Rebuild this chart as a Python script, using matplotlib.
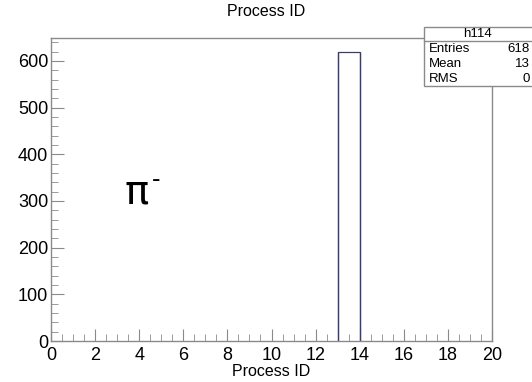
"""Histograma de Process ID para pi- con caja de estadisticas estilo ROOT."""

import matplotlib

matplotlib.use("Agg")
import matplotlib.pyplot as plt  # noqa: E402
from matplotlib.patches import Rectangle  # noqa: E402
from matplotlib.ticker import MultipleLocator  # noqa: E402

plt.rcParams["font.family"] = ["Liberation Sans", "DejaVu Sans"]

# Datos del histograma
bin_edges = [13, 14]
bin_counts = [618]
hist_name = "h114"
stat_labels = ["Entries", "Mean", "RMS"]
stat_values = ["618", "13", "0"]

FRAME = "#8a8a8a"
LINE = "#3b3b6e"

fig = plt.figure(figsize=(5.32, 3.82), dpi=100)
ax = fig.add_axes([0.0959, 0.1073, 0.8289, 0.7932])

ax.stairs(bin_counts, bin_edges, color=LINE, linewidth=0.9)
ax.vlines(bin_edges, 0, bin_counts[0], color=LINE, linewidth=0.9)

ax.set_xlim(0, 20)
ax.set_ylim(0, 1.05 * max(bin_counts))
ax.xaxis.set_major_locator(MultipleLocator(2))
ax.xaxis.set_minor_locator(MultipleLocator(0.5))
ax.yaxis.set_major_locator(MultipleLocator(100))
ax.yaxis.set_minor_locator(MultipleLocator(20))
ax.tick_params(which="both", direction="in", color=FRAME, labelsize=13,
               top=False, right=False)
ax.tick_params(which="major", length=9)
ax.tick_params(which="minor", length=5)
ax.tick_params(axis="x", pad=4)
ax.tick_params(axis="y", pad=2)
for sp in ax.spines.values():
    sp.set_color(FRAME)
    sp.set_linewidth(1.0)

ax.set_xlabel("Process ID", fontsize=11.5, labelpad=0)
fig.text(0.5, 1 - 12 / 382, "Process ID", ha="center", va="center",
         fontsize=11.5)

ax.text(125 / 532, 1 - 193 / 382, "π", transform=fig.transFigure,
        fontsize=29, family="DejaVu Sans", ha="left", va="center")
ax.text(152 / 532, 1 - 180 / 382, "-", transform=fig.transFigure,
        fontsize=17, family="DejaVu Sans", ha="left", va="center")

# Caja de estadisticas
x0, y0 = 424 / 532, 1 - 86 / 382
w, h = 120 / 532, 59 / 382
fig.patches.append(Rectangle((x0, y0), w, h, transform=fig.transFigure,
                             facecolor="white", edgecolor=FRAME, linewidth=1.0))
sep = 1 - 41 / 382
fig.add_artist(plt.Line2D([x0, x0 + w], [sep, sep], transform=fig.transFigure,
                          color=FRAME, linewidth=1.0))
fig.text((424 + 532) / 2 / 532, 1 - 34 / 382, hist_name, ha="center",
         va="center", fontsize=9.5)
for i, (lab, val) in enumerate(zip(stat_labels, stat_values)):
    yy = 1 - (48.5 + i * 15.5) / 382
    fig.text(429 / 532, yy, lab, ha="left", va="center", fontsize=9.5)
    fig.text(530 / 532, yy, val, ha="right", va="center", fontsize=9.5)

fig.savefig("out.png", dpi=100)
